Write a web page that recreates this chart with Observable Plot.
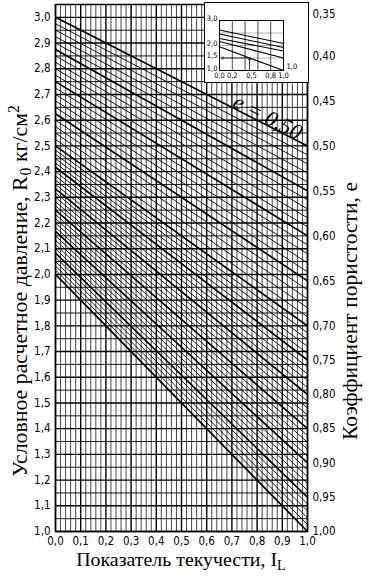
<!DOCTYPE html>
<html><head><meta charset="utf-8">
<script src="https://cdn.jsdelivr.net/npm/d3@7"></script>
<script src="https://cdn.jsdelivr.net/npm/@observablehq/plot@0.6"></script>
<style>
body{margin:0;background:#fff;}
#wrap{position:relative;width:369px;height:577px;overflow:hidden;}
#wrap svg{position:absolute;}
</style></head><body><div id="wrap"></div>
<script>
// Coefficient of porosity e for each nomogram line
const eValues = [0.50,0.51,0.52,0.53,0.54,0.55,0.56,0.57,0.58,0.59,0.60,0.61,0.62,0.63,0.64,0.65,0.66,0.67,0.68,0.69,0.70,
  0.71,0.72,0.73,0.74,0.75,0.76,0.77,0.78,0.79,0.80,0.81,0.82,0.83,0.84,0.85,0.86,0.87,0.88,0.89,0.90,
  0.91,0.92,0.93,0.94,0.95,0.96,0.97,0.98,0.99,1.00];
// R0 where each line meets I_L = 0
const rAtIL0 = [3.000,2.975,2.950,2.925,2.900,2.875,2.850,2.825,2.800,2.775,2.750,2.725,2.700,2.675,2.650,2.625,2.600,2.575,2.550,2.525,2.500,
  2.483,2.467,2.450,2.433,2.417,2.400,2.383,2.367,2.350,2.333,2.317,2.300,2.283,2.267,2.250,2.233,2.217,2.200,2.183,2.167,
  2.150,2.133,2.117,2.100,2.083,2.067,2.050,2.033,2.017,2.000];
// R0 where each line meets I_L = 1
const rAtIL1 = [2.500,2.465,2.430,2.395,2.360,2.325,2.290,2.255,2.220,2.185,2.150,2.115,2.080,2.045,2.010,1.975,1.940,1.905,1.870,1.835,1.800,
  1.773,1.747,1.720,1.693,1.667,1.640,1.613,1.587,1.560,1.533,1.507,1.480,1.453,1.427,1.400,1.373,1.347,1.320,1.293,1.267,
  1.240,1.213,1.187,1.160,1.133,1.107,1.080,1.053,1.027,1.000];
// right axis (e) tick labels and their R0 positions on the right edge
const eTickLabels = ["0,35","0,40","0,45","0,50","0,55","0,60","0,65","0,70","0,75","0,80","0,85","0,90","0,95","1,00"];
const eTickPositions = [3.01,2.85,2.675,2.5,2.325,2.15,1.975,1.8,1.667,1.533,1.4,1.267,1.133,1.0];
const xTicks = [0,0.1,0.2,0.3,0.4,0.5,0.6,0.7,0.8,0.9,1.0];
const yTicks = [1.0,1.1,1.2,1.3,1.4,1.5,1.6,1.7,1.8,1.9,2.0,2.1,2.2,2.3,2.4,2.5,2.6,2.7,2.8,2.9,3.0];
const curveLabel = "e = 0,50";

// inset (example of use)
const insetStart = [2.62,2.46,2.28,2.16,1.95];
const insetEnd = [2.08,1.92,1.78,1.5,1.0];
const insetXTicks = [0,0.2,0.5,0.8,1.0];
const insetYTicks = [1.0,1.5,2.0,3.0];
const insetXGrid = [0.2,0.4,0.6,0.8];
const insetYGrid = [1.5,2.0,2.5];
const insetExample = {il:0.47, r:1.5};

const fmt = d => d.toFixed(1).replace(".", ",");
const tickFont = "'Liberation Sans Narrow','DejaVu Sans Condensed','Liberation Sans',sans-serif";
const serif = "'Liberation Serif','DejaVu Serif',serif";

const lines = eValues.map((e,i)=>({e, a:rAtIL0[i], b:rAtIL1[i], bold: Math.round(e*100)%5===0}));
const thinX = d3.range(0,51).map(i=>i*0.02).filter(v=>Math.abs(v*10-Math.round(v*10))>1e-6);
const thinY = d3.range(0,21).map(i=>1.05+i*0.1);

const main = Plot.plot({
  width:369, height:577, marginLeft:55, marginRight:62, marginTop:4, marginBottom:46,
  x:{domain:[0,1]}, y:{domain:[1,3.05]},
  style:{fontFamily:tickFont, background:"white", overflow:"visible"},
  marks:[
    Plot.ruleX(thinX, {stroke:"#000", strokeWidth:0.8, strokeOpacity:0.9}),
    Plot.ruleX(xTicks, {stroke:"#000", strokeWidth:1.4}),
    Plot.ruleY(thinY, {stroke:"#000", strokeWidth:0.9}),
    Plot.ruleY(yTicks, {stroke:"#000", strokeWidth:1.4}),
    Plot.link(lines.filter(d=>!d.bold), {x1:()=>0, x2:()=>1, y1:"a", y2:"b", stroke:"#000", strokeWidth:0.9}),
    Plot.link(lines.filter(d=>d.bold), {x1:()=>0, x2:()=>1, y1:"a", y2:"b", stroke:"#000", strokeWidth:1.7}),
    Plot.frame({stroke:"#000", strokeWidth:1.5}),
    Plot.axisX(xTicks, {tickSize:0, tickPadding:5, tickFormat:fmt, fontSize:11.5, label:null, fill:"#000"}),
    Plot.axisY(yTicks, {tickSize:0, tickPadding:5, tickFormat:fmt, fontSize:11.5, label:null, fill:"#000"}),
    Plot.text(eTickLabels, {x:()=>1, y:(d,i)=>eTickPositions[i], text:d=>d, dx:5, textAnchor:"start", fontSize:11.5, fill:"#000"}),
    Plot.text([curveLabel], {x:()=>0.83, y:()=>2.585, text:d=>d, rotate:27, dx:3, dy:-7, fontSize:22, fontStyle:"italic", fontFamily:serif, fill:"#000"})
  ]
});
main.style.left="0px"; main.style.top="0px";
document.getElementById("wrap").appendChild(main);

// axis titles
const svg = d3.select(main);
function title(x, y, rot, target, build){
  const t = svg.append("text").attr("font-family", serif).attr("font-size", 19).attr("fill","#000")
    .attr("text-anchor","middle").attr("transform", `translate(${x},${y}) rotate(${rot})`);
  build(t);
  const len = t.node().getComputedTextLength();
  let fs = 19*target/len; fs = Math.max(16, Math.min(22, fs));
  t.attr("font-size", fs);
  t.selectAll("tspan.s").attr("font-size", fs*0.72);
}
title(27, 291, -90, 377, t=>{
  t.append("tspan").text("Условное расчетное давление, R");
  t.append("tspan").attr("class","s").attr("dx", 1).attr("baseline-shift","-25%").text("0");
  t.append("tspan").text(" кг/см");
  t.append("tspan").attr("class","s").attr("baseline-shift","super").text("2");
});
title(181, 566, 0, 213, t=>{
  t.append("tspan").text("Показатель текучести, I");
  t.append("tspan").attr("class","s").attr("baseline-shift","-25%").text("L");
});
title(357, 311, -90, 258, t=>{
  t.append("tspan").text("Коэффициент пористости, е");
});

// inset
const insetLines = insetStart.map((a,i)=>({a, b:insetEnd[i]}));
const inset = Plot.plot({
  width:103, height:79, marginLeft:14, marginRight:25, marginTop:17, marginBottom:12,
  x:{domain:[0,1]}, y:{domain:[1,3]},
  style:{background:"white", fontFamily:tickFont, overflow:"visible"},
  marks:[
    Plot.ruleX(insetXGrid, {stroke:"#000", strokeWidth:0.7}),
    Plot.ruleY(insetYGrid, {stroke:"#000", strokeWidth:0.5, strokeOpacity:0.6}),
    Plot.link(insetLines, {x1:()=>0, x2:()=>1, y1:"a", y2:"b", stroke:"#000", strokeWidth:1.1}),
    Plot.frame({stroke:"#000", strokeWidth:1}),
    Plot.arrow([insetExample], {x1:"il", y1:"r", x2:()=>0.03, y2:"r", stroke:"#000", strokeWidth:0.8, headLength:4}),
    Plot.arrow([insetExample], {x1:"il", y1:()=>1.0, x2:"il", y2:"r", stroke:"#000", strokeWidth:0.8, headLength:4}),
    Plot.axisX(insetXTicks, {tickSize:0, tickPadding:2, tickFormat:fmt, fontSize:7.5, label:null, fill:"#000"}),
    Plot.axisY(insetYTicks, {tickSize:0, tickPadding:2, tickFormat:fmt, fontSize:7.5, label:null, fill:"#000", dy:-2}),
    Plot.text(["1,0"], {x:()=>1, y:()=>1.0, text:d=>d, dx:3, dy:-4, textAnchor:"start", fontSize:7.5, fill:"#000"})
  ]
});
inset.style.left="205px"; inset.style.top="3px"; inset.style.outline="1.2px solid #000";
document.getElementById("wrap").appendChild(inset);
</script>
</body></html>
